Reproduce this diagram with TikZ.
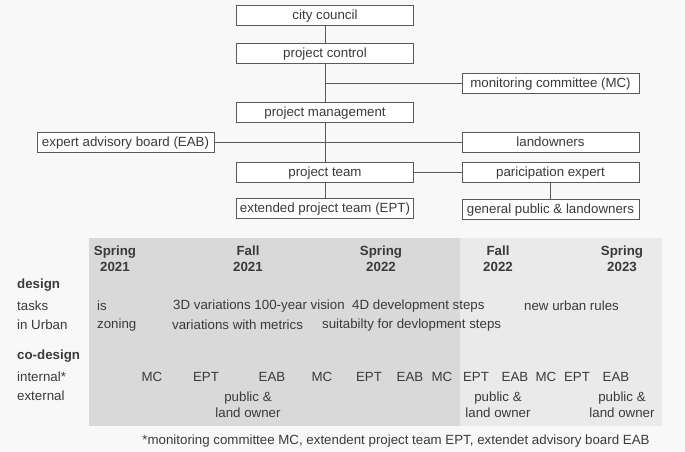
\documentclass[tikz,border=0pt]{standalone}
\usepackage{fontspec}
\setmainfont{Liberation Sans}
\begin{document}
\definecolor{bgc}{HTML}{F8F8F8}
\definecolor{darkp}{HTML}{D9D9D9}
\definecolor{lightp}{HTML}{EAEAEA}
\definecolor{txt}{HTML}{3A3A3A}
\definecolor{linec}{HTML}{5A5A5A}
\begin{tikzpicture}[x=1pt,y=-1pt,
  every node/.style={text=txt,font=\fontsize{13.3}{15}\selectfont},
  orgbox/.style={draw=linec,line width=0.8pt,fill=white,minimum width=177pt,minimum height=20pt,inner sep=0pt,text height=10.6pt,text depth=1.8pt},
  conn/.style={draw=linec,line width=0.8pt},
  lbl/.style={anchor=west,inner sep=0pt},
  mid/.style={anchor=center,inner sep=0pt},
  hd/.style={align=center,inner sep=0pt,font=\fontsize{13.3}{16}\selectfont\bfseries}]
\fill[bgc] (0,0) rectangle (685,452);
\useasboundingbox (0,0) rectangle (685,452);
% panels
\fill[lightp] (89,238) rectangle (662,426);
\fill[darkp] (89,238) rectangle (460,426);
% org chart
\node[orgbox] (cc) at (325,15) {city council};
\node[orgbox] (pc) at (325,53) {project control};
\node[orgbox] (pm) at (325,112) {project management};
\node[orgbox] (pt) at (325,172) {project team};
\node[orgbox] (ept) at (325,208.5) {extended project team (EPT)};
\node[orgbox] (mc) at (550.5,83) {monitoring committee (MC)};
\node[orgbox] (lo) at (550.5,142.5) {landowners};
\node[orgbox] (pe) at (550.5,172) {paricipation expert};
\node[orgbox] (gp) at (550.5,209) {general public \& landowners};
\node[orgbox] (eab) at (125.5,142.5) {expert advisory board (EAB)};
\coordinate (mcj) at (pc.south |- mc.west);
\draw[conn] (cc) -- (pc);
\draw[conn] (pc) -- (pm);
\draw[conn] (eab) -- (lo);
\draw[conn] (pm) -- (pt);
\draw[conn] (pt) -- (ept);
\draw[conn] (mcj) -- (mc);
\draw[conn] (pt) -- (pe);
\draw[conn] (pe) -- (gp);
% season headers
\node[hd] (s21) at (115,259) {Spring\\2021};
\node[hd] (f21) at (248,259) {Fall\\2021};
\node[hd] (s22) at (381,259) {Spring\\2022};
\node[hd] (f22) at (498,259) {Fall\\2022};
\node[hd] (s23) at (622,259) {Spring\\2023};
% left labels
\node[lbl,font=\fontsize{13.3}{15}\selectfont\bfseries] (design) at (17,285) {design};
\node[lbl] (tasks) at (17,306) {tasks};
\node[lbl] (inurban) at (17,325) {in Urban};
\node[lbl,font=\fontsize{13.3}{15}\selectfont\bfseries] (codesign) at (17,356) {co-design};
\node[lbl] (internal) at (17,377) {internal*};
\node[lbl] (external) at (17,396) {external};
% tasks row
\node[lbl] (t1) at (97,306) {is};
\node[lbl] (t2) at (173,306) {3D variations 100-year vision};
\node[lbl] (t4) at (352,306) {4D development steps};
\node[lbl] (t5) at (524,306) {new urban rules};
% in Urban row
\node[lbl] (u1) at (97,325) {zoning};
\node[lbl] (u2) at (172,325) {variations with metrics};
\node[lbl] (u3) at (322,325) {suitabilty for devlopment steps};
% internal row
\node[mid] (i1) at (152,377) {MC};
\node[mid] (i2) at (206,377) {EPT};
\node[mid] (i3) at (272,377) {EAB};
\node[mid] (i4) at (322,377) {MC};
\node[mid] (i5) at (369,377) {EPT};
\node[mid] (i6) at (410,377) {EAB};
\node[mid] (i7) at (442,377) {MC};
\node[mid] (i8) at (476,377) {EPT};
\node[mid] (i9) at (515,377) {EAB};
\node[mid] (i10) at (546,377) {MC};
\node[mid] (i11) at (577,377) {EPT};
\node[mid] (i12) at (616,377) {EAB};
% external row
\node[hd,font=\fontsize{13.3}{16.5}\selectfont] (e1) at (248,404.5) {public \&\\land owner};
\node[hd,font=\fontsize{13.3}{16.5}\selectfont] (e2) at (498,404.5) {public \&\\land owner};
\node[hd,font=\fontsize{13.3}{16.5}\selectfont] (e3) at (622,404.5) {public \&\\land owner};
% footnote
\node[mid] (fn) at (396,441) {*monitoring committee MC, extendent project team EPT, extendet advisory board EAB};
\end{tikzpicture}
\end{document}
